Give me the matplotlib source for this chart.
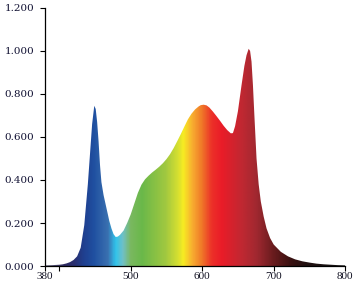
import numpy as np
import matplotlib
matplotlib.use("Agg")
import matplotlib.pyplot as plt
from matplotlib.colors import LinearSegmentedColormap

# spectrum (nm, relative intensity)
wavelength = [380, 390, 400, 405, 410, 415, 420, 425, 430, 435, 440, 443, 446, 449,
              451, 453, 455, 457, 459, 462, 466, 470, 473, 476, 479, 482, 485, 490,
              495, 500, 505, 510, 515, 520, 525, 530, 535, 540, 545, 550, 555, 560,
              565, 570, 575, 580, 585, 590, 595, 598, 602, 606, 610, 615, 620, 625, 630,
              635, 640, 643, 646, 650, 655, 659, 662, 665, 667, 669, 671, 673, 676,
              679, 682, 686, 690, 695, 700, 710, 720, 730, 740, 750, 760, 770, 780,
              790, 800]
intensity = [0.003, 0.004, 0.006, 0.008, 0.012, 0.018, 0.028, 0.045, 0.085, 0.19, 0.38, 0.52, 0.66, 0.745,
             0.73, 0.67, 0.58, 0.47, 0.39, 0.33, 0.27, 0.21, 0.175, 0.148, 0.135, 0.137, 0.145, 0.165,
             0.20, 0.24, 0.29, 0.34, 0.378, 0.403, 0.42, 0.435, 0.448, 0.462, 0.478, 0.497, 0.52, 0.548,
             0.58, 0.613, 0.648, 0.682, 0.708, 0.728, 0.742, 0.748, 0.75, 0.747, 0.737, 0.718, 0.697,
             0.675, 0.652, 0.632, 0.617, 0.618, 0.65, 0.72, 0.84, 0.93, 0.98, 1.01, 1.0, 0.95, 0.84,
             0.70, 0.50, 0.38, 0.30, 0.23, 0.175, 0.13, 0.10, 0.066, 0.045, 0.031, 0.022, 0.016, 0.011,
             0.008, 0.006, 0.004, 0.003]

# colour stops of the rainbow fill
stop_nm = [380, 405, 420, 433, 447, 467, 478, 488, 499, 515, 548, 566, 573, 585,
           599, 613, 627, 655, 676, 699, 723, 746, 800]
stop_col = ['#6a6a80', '#2e2a60', '#2a2f70', '#1f3f8f', '#1f4fa0', '#3a70b0', '#30c4ec',
            '#70c0c8', '#7ab860', '#6ab84a', '#a0c840', '#d8e030', '#f7ec22', '#f8b030',
            '#f07828', '#ec3028', '#ea1c28', '#c02832', '#a02830', '#6a1c1e', '#3a1010',
            '#201010', '#151515']

xticks = [380, 400, 500, 600, 700, 800]
xlabels = ['380', '', '500', '600', '700', '800']
yticks = [0.0, 0.2, 0.4, 0.6, 0.8, 1.0, 1.2]

fig = plt.figure(figsize=(3.54, 2.83), dpi=100)
ax = fig.add_axes([0.127, 0.06, 0.848, 0.912])

pos = [(w - 380) / 420 for w in stop_nm]
cmap = LinearSegmentedColormap.from_list('spec', list(zip(pos, stop_col)))

poly = ax.fill_between(wavelength, intensity, 0, color='none', lw=0)
grad = np.linspace(0, 1, 600).reshape(1, -1)
img = ax.imshow(grad, cmap=cmap, extent=[380, 800, 0, 1.2], aspect='auto',
                origin='lower', interpolation='bilinear')
path = poly.get_paths()[0]
img.set_clip_path(path, transform=ax.transData)

ax.set_xlim(380, 800)
ax.set_ylim(0, 1.2)
ax.set_xticks(xticks)
ax.set_xticklabels(xlabels, fontfamily='Liberation Serif', fontsize=8, color='#111122')
ax.set_yticks(yticks)
ax.set_yticklabels(['%.3f' % v for v in yticks], fontfamily='DejaVu Serif',
                   fontsize=7.5, color='#111133')
ax.tick_params(direction='out', length=3.5, width=0.8)
ax.tick_params(axis='x', pad=0.5)
ax.tick_params(axis='y', pad=4)
for s in ['top', 'right']:
    ax.spines[s].set_visible(False)
for s in ['left', 'bottom']:
    ax.spines[s].set_linewidth(0.9)

fig.savefig('out.png', dpi=100)
